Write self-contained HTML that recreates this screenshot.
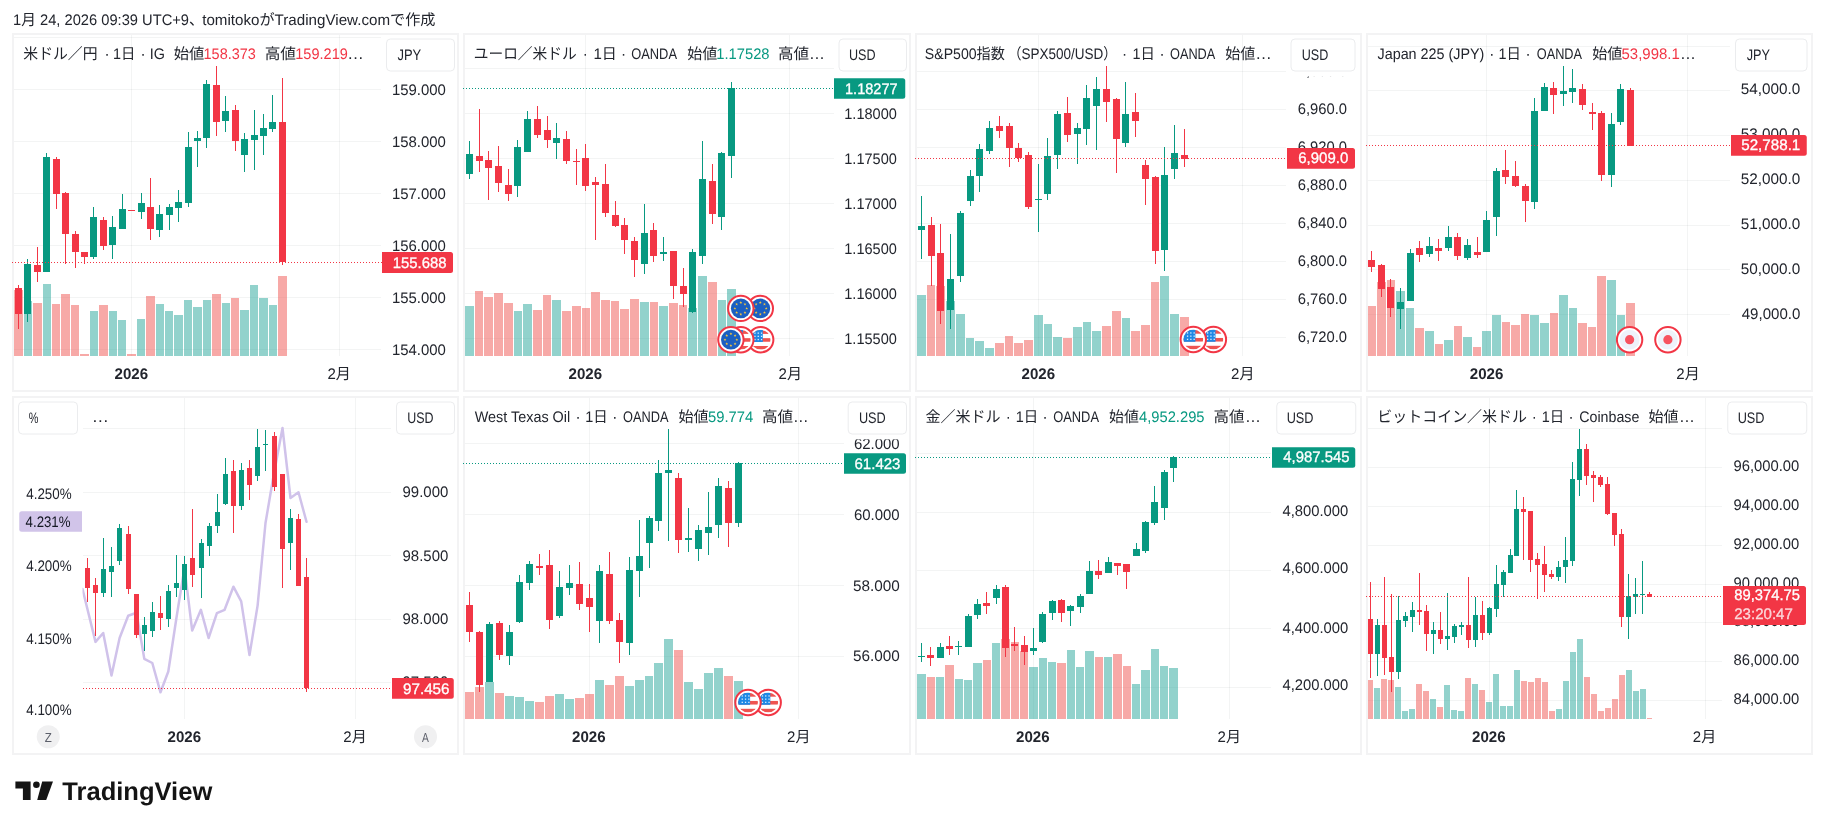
<!DOCTYPE html>
<html lang="ja">
<head>
<meta charset="utf-8">
<title>TradingView chart snapshot</title>
<style>
html,body{margin:0;padding:0;background:#fff;}
body{width:1825px;height:829px;overflow:hidden;font-family:"Liberation Sans","Noto Sans CJK JP",sans-serif;}
svg{display:block;will-change:transform;}
svg text{white-space:pre;text-rendering:geometricPrecision;}
</style>
</head>
<body>
<svg width="1825" height="829" viewBox="0 0 1825 829" font-family='"Liberation Sans", "Noto Sans CJK JP", sans-serif' font-size="15.3">
<rect width="1825" height="829" fill="#fff"/>
<text x="13.04" y="25" textLength="190.7" lengthAdjust="spacingAndGlyphs" fill="#22252d">1月 24, 2026 09:39 UTC+9、</text>
<text x="202.2" y="25" textLength="233.28" lengthAdjust="spacingAndGlyphs" fill="#22252d">tomitokoがTradingView.comで作成</text>
<g class="panel p1">
<rect x="13" y="34" width="445" height="357" fill="#fff" stroke="#f3f3f4" stroke-width="2"/>
<path d="M14 37.5H381.25M14 89.5H381.25M14 141.5H381.25M14 193.5H381.25M14 245.5H381.25M14 297.5H381.25M14 349.5H381.25" stroke="rgba(42,46,57,0.055)" stroke-width="1" fill="none" shape-rendering="crispEdges"/>
<path d="M131.5 35V355.5M339.5 35V355.5" stroke="rgba(42,46,57,0.055)" stroke-width="1" fill="none" shape-rendering="crispEdges"/>
<path d="M24 301h8v54.5h-8zM43 284h8v71.5h-8zM90 311h8v44.5h-8zM109 311h8v44.5h-8zM118 320h8v35.5h-8zM137 319h8v36.5h-8zM156 304h8v51.5h-8zM165 311h8v44.5h-8zM174 315h9v40.5h-9zM184 300h8v55.5h-8zM193 307h9v48.5h-9zM203 300h8v55.5h-8zM222 303h8v52.5h-8zM240 310h9v45.5h-9zM250 285h8v70.5h-8zM259 298h9v57.5h-9zM269 305h8v50.5h-8z" fill="rgba(38,166,154,0.5)" shape-rendering="crispEdges"/>
<path d="M14 290h9v65.5h-9zM33 303h9v52.5h-9zM52 304h8v51.5h-8zM61 294h9v61.5h-9zM71 305h8v50.5h-8zM80 354h9v1.5h-9zM99 305h9v50.5h-9zM127 354h9v1.5h-9zM146 296h9v59.5h-9zM212 294h9v61.5h-9zM231 298h8v57.5h-8zM278 276h9v79.5h-9z" fill="rgba(239,83,80,0.5)" shape-rendering="crispEdges"/>
<path d="M27 259h1v63h-1zM24 264h7v50h-7zM46 153h1v119h-1zM43 157h7v115h-7zM93 207h1v52h-1zM90 217h7v40h-7zM112 216h1v43h-1zM109 227h7v18h-7zM122 194h1v35h-1zM119 209h7v20h-7zM141 193h1v26h-1zM138 203h7v9h-7zM159 205h1v32h-1zM156 214h7v16h-7zM169 204h1v26h-1zM166 207h7v8h-7zM178 190h1v32h-1zM175 202h7v6h-7zM188 132h1v75h-1zM185 147h7v56h-7zM197 131h1v36h-1zM194 138h7v3h-7zM206 80h1v68h-1zM203 84h7v54h-7zM225 96h1v36h-1zM222 111h7v10h-7zM244 133h1v39h-1zM241 139h7v16h-7zM254 110h1v60h-1zM251 135h7v5h-7zM263 114h1v41h-1zM260 128h7v8h-7zM272 95h1v37h-1zM269 122h7v7h-7z" fill="#089981" shape-rendering="crispEdges"/>
<path d="M18 285h1v44h-1zM15 288h7v26h-7zM37 247h1v35h-1zM34 265h7v7h-7zM56 157h1v52h-1zM53 159h7v35h-7zM65 192h1v72h-1zM62 193h7v41h-7zM75 231h1v37h-1zM72 234h7v18h-7zM84 252h1v12h-1zM81 252h7v5h-7zM103 217h1v33h-1zM100 220h7v26h-7zM131 210h1v1h-1zM128 210h7v1h-7zM150 178h1v62h-1zM147 207h7v22h-7zM216 66h1v70h-1zM213 85h7v37h-7zM235 105h1v46h-1zM232 110h7v31h-7zM282 78h1v187h-1zM279 122h7v140h-7z" fill="#f23645" shape-rendering="crispEdges"/>
<path d="M12 262.5H382" stroke="#f23645" stroke-width="1" stroke-dasharray="1 2" fill="none" shape-rendering="crispEdges"/>
<text x="391.92" y="94.55" textLength="53.97" lengthAdjust="spacingAndGlyphs" fill="#22252d">159.000</text>
<text x="391.92" y="146.55" textLength="53.97" lengthAdjust="spacingAndGlyphs" fill="#22252d">158.000</text>
<text x="391.92" y="198.55" textLength="53.97" lengthAdjust="spacingAndGlyphs" fill="#22252d">157.000</text>
<text x="391.92" y="250.55" textLength="53.97" lengthAdjust="spacingAndGlyphs" fill="#22252d">156.000</text>
<text x="391.92" y="302.55" textLength="53.97" lengthAdjust="spacingAndGlyphs" fill="#22252d">155.000</text>
<text x="391.92" y="354.55" textLength="53.97" lengthAdjust="spacingAndGlyphs" fill="#22252d">154.000</text>
<path d="M382 252H450.5Q453 252 453 254.5V270.5Q453 273 450.5 273H382Z" fill="#f23645"/>
<text x="392.78" y="268.1" textLength="53.76" lengthAdjust="spacingAndGlyphs" fill="#fff" stroke="#fff" stroke-width=".3">155.688</text>
<rect x="383" y="36.5" width="74" height="39.9" fill="#fff"/>
<rect x="386.5" y="39" width="68" height="32" rx="4" fill="#fff" stroke="#ebecee" stroke-width="1"/>
<text x="397.5" y="59.6" textLength="23.75" lengthAdjust="spacingAndGlyphs" fill="#22252d">JPY</text>
<text x="23.3" y="58.8" textLength="74.18" lengthAdjust="spacingAndGlyphs" fill="#22252d">米ドル／円</text>
<text x="104.5" y="58.8" fill="#22252d">·</text>
<text x="112.96" y="58.8" textLength="22.34" lengthAdjust="spacingAndGlyphs" fill="#22252d">1日</text>
<text x="140.5" y="58.8" fill="#22252d">·</text>
<text x="149.66" y="58.8" textLength="15.18" lengthAdjust="spacingAndGlyphs" fill="#22252d">IG</text>
<text x="173.75" y="58.8" textLength="30.61" lengthAdjust="spacingAndGlyphs" fill="#22252d">始値</text>
<text x="203.55" y="58.8" textLength="52.33" lengthAdjust="spacingAndGlyphs" fill="#f23645">158.373</text>
<text x="264.67" y="58.8" textLength="31.45" lengthAdjust="spacingAndGlyphs" fill="#22252d">高値</text>
<text x="295.3" y="58.8" textLength="52.48" lengthAdjust="spacingAndGlyphs" fill="#f23645">159.219</text>
<text x="347.33" y="58.8" textLength="16.57" lengthAdjust="spacingAndGlyphs" fill="#22252d">…</text>
<text x="114.5" y="378.5" textLength="33.53" lengthAdjust="spacingAndGlyphs" font-weight="bold" fill="#22252d">2026</text>
<text x="327.5" y="378.5" textLength="23.36" lengthAdjust="spacingAndGlyphs" fill="#22252d">2月</text>
</g>
<g class="panel p2">
<rect x="464" y="34" width="446" height="357" fill="#fff" stroke="#f3f3f4" stroke-width="2"/>
<path d="M465 68.5H833.5M465 113.5H833.5M465 158.5H833.5M465 203.5H833.5M465 248.5H833.5M465 293.5H833.5M465 338.5H833.5" stroke="rgba(42,46,57,0.055)" stroke-width="1" fill="none" shape-rendering="crispEdges"/>
<path d="M585.5 35V355.5M789.5 35V355.5" stroke="rgba(42,46,57,0.055)" stroke-width="1" fill="none" shape-rendering="crispEdges"/>
<path d="M465 306h9v49.5h-9zM514 311h8v44.5h-8zM523 304h9v51.5h-9zM552 300h9v55.5h-9zM640 302h9v53.5h-9zM659 306h9v49.5h-9zM688 308h9v47.5h-9zM698 276h9v79.5h-9zM718 300h8v55.5h-8zM727 289h9v66.5h-9z" fill="rgba(38,166,154,0.5)" shape-rendering="crispEdges"/>
<path d="M475 291h8v64.5h-8zM484 297h9v58.5h-9zM494 293h9v62.5h-9zM504 303h9v52.5h-9zM533 310h9v45.5h-9zM543 295h8v60.5h-8zM562 311h9v44.5h-9zM572 306h9v49.5h-9zM582 308h8v47.5h-8zM591 292h9v63.5h-9zM601 300h9v55.5h-9zM611 301h8v54.5h-8zM620 309h9v46.5h-9zM630 299h9v56.5h-9zM650 302h8v53.5h-8zM669 303h9v52.5h-9zM679 305h8v50.5h-8zM708 282h9v73.5h-9z" fill="rgba(239,83,80,0.5)" shape-rendering="crispEdges"/>
<path d="M469 141h1v38h-1zM466 154h7v20h-7zM517 140h1v57h-1zM514 147h7v39h-7zM527 111h1v41h-1zM524 119h7v33h-7zM556 123h1v36h-1zM553 138h7v5h-7zM644 204h1v70h-1zM641 233h7v31h-7zM663 237h1v24h-1zM660 252h7v2h-7zM692 249h1v64h-1zM689 252h7v60h-7zM702 141h1v123h-1zM699 179h7v77h-7zM721 152h1v78h-1zM718 153h7v64h-7zM731 82h1v96h-1zM728 88h7v68h-7z" fill="#089981" shape-rendering="crispEdges"/>
<path d="M479 109h1v63h-1zM476 156h7v5h-7zM488 151h1v49h-1zM485 160h7v8h-7zM498 146h1v46h-1zM495 166h7v17h-7zM508 169h1v32h-1zM505 185h7v9h-7zM537 106h1v32h-1zM534 119h7v16h-7zM547 116h1v32h-1zM544 130h7v10h-7zM566 131h1v33h-1zM563 139h7v22h-7zM576 149h1v36h-1zM573 161h7v1h-7zM585 144h1v47h-1zM582 158h7v28h-7zM595 177h1v63h-1zM592 182h7v3h-7zM605 164h1v53h-1zM602 184h7v29h-7zM615 201h1v26h-1zM612 215h7v11h-7zM624 218h1v36h-1zM621 225h7v15h-7zM634 237h1v40h-1zM631 241h7v19h-7zM653 223h1v39h-1zM650 230h7v26h-7zM673 251h1v48h-1zM670 251h7v35h-7zM683 268h1v39h-1zM680 286h7v8h-7zM712 164h1v60h-1zM709 181h7v33h-7z" fill="#f23645" shape-rendering="crispEdges"/>
<g><circle cx="760.3" cy="308.4" r="12.7" fill="#fff" stroke="#f23645" stroke-width="2"/><circle cx="760.3" cy="308.4" r="9.9" fill="#1b5fc1"/><polygon points="760.3,301 760.67,301.99 761.73,302.04 760.9,302.69 761.18,303.71 760.3,303.13 759.42,303.71 759.7,302.69 758.87,302.04 759.93,301.99" fill="#f5c73d"/><polygon points="764.47,302.73 764.84,303.72 765.9,303.76 765.07,304.42 765.35,305.44 764.47,304.86 763.59,305.44 763.87,304.42 763.05,303.76 764.1,303.72" fill="#f5c73d"/><polygon points="766.2,306.9 766.57,307.89 767.63,307.94 766.8,308.59 767.08,309.61 766.2,309.03 765.32,309.61 765.6,308.59 764.77,307.94 765.83,307.89" fill="#f5c73d"/><polygon points="764.47,311.07 764.84,312.06 765.9,312.11 765.07,312.77 765.35,313.79 764.47,313.2 763.59,313.79 763.87,312.77 763.05,312.11 764.1,312.06" fill="#f5c73d"/><polygon points="760.3,312.8 760.67,313.79 761.73,313.84 760.9,314.49 761.18,315.51 760.3,314.93 759.42,315.51 759.7,314.49 758.87,313.84 759.93,313.79" fill="#f5c73d"/><polygon points="756.13,311.07 756.5,312.06 757.55,312.11 756.73,312.77 757.01,313.79 756.13,313.2 755.25,313.79 755.53,312.77 754.7,312.11 755.76,312.06" fill="#f5c73d"/><polygon points="754.4,306.9 754.77,307.89 755.83,307.94 755,308.59 755.28,309.61 754.4,309.03 753.52,309.61 753.8,308.59 752.97,307.94 754.03,307.89" fill="#f5c73d"/><polygon points="756.13,302.73 756.5,303.72 757.55,303.76 756.73,304.42 757.01,305.44 756.13,304.86 755.25,305.44 755.53,304.42 754.7,303.76 755.76,303.72" fill="#f5c73d"/></g>
<g><circle cx="740.8" cy="308.4" r="12.7" fill="#fff" stroke="#f23645" stroke-width="2"/><circle cx="740.8" cy="308.4" r="9.9" fill="#1b5fc1"/><polygon points="740.8,301 741.17,301.99 742.23,302.04 741.4,302.69 741.68,303.71 740.8,303.13 739.92,303.71 740.2,302.69 739.37,302.04 740.43,301.99" fill="#f5c73d"/><polygon points="744.97,302.73 745.34,303.72 746.4,303.76 745.57,304.42 745.85,305.44 744.97,304.86 744.09,305.44 744.37,304.42 743.55,303.76 744.6,303.72" fill="#f5c73d"/><polygon points="746.7,306.9 747.07,307.89 748.13,307.94 747.3,308.59 747.58,309.61 746.7,309.03 745.82,309.61 746.1,308.59 745.27,307.94 746.33,307.89" fill="#f5c73d"/><polygon points="744.97,311.07 745.34,312.06 746.4,312.11 745.57,312.77 745.85,313.79 744.97,313.2 744.09,313.79 744.37,312.77 743.55,312.11 744.6,312.06" fill="#f5c73d"/><polygon points="740.8,312.8 741.17,313.79 742.23,313.84 741.4,314.49 741.68,315.51 740.8,314.93 739.92,315.51 740.2,314.49 739.37,313.84 740.43,313.79" fill="#f5c73d"/><polygon points="736.63,311.07 737,312.06 738.05,312.11 737.23,312.77 737.51,313.79 736.63,313.2 735.75,313.79 736.03,312.77 735.2,312.11 736.26,312.06" fill="#f5c73d"/><polygon points="734.9,306.9 735.27,307.89 736.33,307.94 735.5,308.59 735.78,309.61 734.9,309.03 734.02,309.61 734.3,308.59 733.47,307.94 734.53,307.89" fill="#f5c73d"/><polygon points="736.63,302.73 737,303.72 738.05,303.76 737.23,304.42 737.51,305.44 736.63,304.86 735.75,305.44 736.03,304.42 735.2,303.76 736.26,303.72" fill="#f5c73d"/></g>
<g><circle cx="760.7" cy="339.7" r="12.7" fill="#fff" stroke="#f23645" stroke-width="2"/><clipPath id="cl1"><circle cx="760.7" cy="339.7" r="9.9"/></clipPath><g clip-path="url(#cl1)"><rect x="750.7" y="329.7" width="20" height="20" fill="#fff"/><rect x="750.7" y="330.3" width="20" height="3.6" fill="#ef5350"/><rect x="750.7" y="338.15" width="20" height="3.6" fill="#ef5350"/><rect x="750.7" y="346" width="20" height="3.6" fill="#ef5350"/><rect x="750.7" y="329.7" width="12.1" height="12.3" fill="#1e88e5"/><rect x="754.3" y="332.5" width="1.3" height="1.3" fill="#fff" fill-opacity=".85"/><rect x="754.3" y="335.7" width="1.3" height="1.3" fill="#fff" fill-opacity=".85"/><rect x="754.3" y="338.9" width="1.3" height="1.3" fill="#fff" fill-opacity=".85"/><rect x="757.6" y="332.5" width="1.3" height="1.3" fill="#fff" fill-opacity=".85"/><rect x="757.6" y="335.7" width="1.3" height="1.3" fill="#fff" fill-opacity=".85"/><rect x="757.6" y="338.9" width="1.3" height="1.3" fill="#fff" fill-opacity=".85"/><rect x="760.9" y="332.5" width="1.3" height="1.3" fill="#fff" fill-opacity=".85"/><rect x="760.9" y="335.7" width="1.3" height="1.3" fill="#fff" fill-opacity=".85"/><rect x="760.9" y="338.9" width="1.3" height="1.3" fill="#fff" fill-opacity=".85"/></g></g>
<g><circle cx="740.8" cy="339.7" r="12.7" fill="#fff" stroke="#f23645" stroke-width="2"/><clipPath id="cl2"><circle cx="740.8" cy="339.7" r="9.9"/></clipPath><g clip-path="url(#cl2)"><rect x="730.8" y="329.7" width="20" height="20" fill="#fff"/><rect x="730.8" y="330.3" width="20" height="3.6" fill="#ef5350"/><rect x="730.8" y="338.15" width="20" height="3.6" fill="#ef5350"/><rect x="730.8" y="346" width="20" height="3.6" fill="#ef5350"/><rect x="730.8" y="329.7" width="12.1" height="12.3" fill="#1e88e5"/><rect x="734.4" y="332.5" width="1.3" height="1.3" fill="#fff" fill-opacity=".85"/><rect x="734.4" y="335.7" width="1.3" height="1.3" fill="#fff" fill-opacity=".85"/><rect x="734.4" y="338.9" width="1.3" height="1.3" fill="#fff" fill-opacity=".85"/><rect x="737.7" y="332.5" width="1.3" height="1.3" fill="#fff" fill-opacity=".85"/><rect x="737.7" y="335.7" width="1.3" height="1.3" fill="#fff" fill-opacity=".85"/><rect x="737.7" y="338.9" width="1.3" height="1.3" fill="#fff" fill-opacity=".85"/><rect x="741" y="332.5" width="1.3" height="1.3" fill="#fff" fill-opacity=".85"/><rect x="741" y="335.7" width="1.3" height="1.3" fill="#fff" fill-opacity=".85"/><rect x="741" y="338.9" width="1.3" height="1.3" fill="#fff" fill-opacity=".85"/></g></g>
<g><circle cx="730.9" cy="339.7" r="12.7" fill="#fff" stroke="#f23645" stroke-width="2"/><circle cx="730.9" cy="339.7" r="9.9" fill="#1b5fc1"/><polygon points="730.9,332.3 731.27,333.29 732.33,333.34 731.5,333.99 731.78,335.01 730.9,334.43 730.02,335.01 730.3,333.99 729.47,333.34 730.53,333.29" fill="#f5c73d"/><polygon points="735.07,334.03 735.44,335.02 736.5,335.06 735.67,335.72 735.95,336.74 735.07,336.16 734.19,336.74 734.47,335.72 733.65,335.06 734.7,335.02" fill="#f5c73d"/><polygon points="736.8,338.2 737.17,339.19 738.23,339.24 737.4,339.89 737.68,340.91 736.8,340.33 735.92,340.91 736.2,339.89 735.37,339.24 736.43,339.19" fill="#f5c73d"/><polygon points="735.07,342.37 735.44,343.36 736.5,343.41 735.67,344.07 735.95,345.09 735.07,344.5 734.19,345.09 734.47,344.07 733.65,343.41 734.7,343.36" fill="#f5c73d"/><polygon points="730.9,344.1 731.27,345.09 732.33,345.14 731.5,345.79 731.78,346.81 730.9,346.23 730.02,346.81 730.3,345.79 729.47,345.14 730.53,345.09" fill="#f5c73d"/><polygon points="726.73,342.37 727.1,343.36 728.15,343.41 727.33,344.07 727.61,345.09 726.73,344.5 725.85,345.09 726.13,344.07 725.3,343.41 726.36,343.36" fill="#f5c73d"/><polygon points="725,338.2 725.37,339.19 726.43,339.24 725.6,339.89 725.88,340.91 725,340.33 724.12,340.91 724.4,339.89 723.57,339.24 724.63,339.19" fill="#f5c73d"/><polygon points="726.73,334.03 727.1,335.02 728.15,335.06 727.33,335.72 727.61,336.74 726.73,336.16 725.85,336.74 726.13,335.72 725.3,335.06 726.36,335.02" fill="#f5c73d"/></g>
<path d="M463 88.5H834" stroke="#089981" stroke-width="1" stroke-dasharray="1 2" fill="none" shape-rendering="crispEdges"/>
<text x="844.3" y="118.55" textLength="52.48" lengthAdjust="spacingAndGlyphs" fill="#22252d">1.18000</text>
<text x="844.3" y="163.55" textLength="52.48" lengthAdjust="spacingAndGlyphs" fill="#22252d">1.17500</text>
<text x="844.3" y="208.55" textLength="52.48" lengthAdjust="spacingAndGlyphs" fill="#22252d">1.17000</text>
<text x="844.3" y="253.55" textLength="52.48" lengthAdjust="spacingAndGlyphs" fill="#22252d">1.16500</text>
<text x="844.3" y="298.55" textLength="52.48" lengthAdjust="spacingAndGlyphs" fill="#22252d">1.16000</text>
<text x="844.3" y="343.55" textLength="52.48" lengthAdjust="spacingAndGlyphs" fill="#22252d">1.15500</text>
<path d="M834 78.25H902.75Q905.25 78.25 905.25 80.75V96.25Q905.25 98.75 902.75 98.75H834Z" fill="#089981"/>
<text x="845.05" y="94.2" textLength="52.48" lengthAdjust="spacingAndGlyphs" fill="#fff" stroke="#fff" stroke-width=".3">1.18277</text>
<rect x="835.5" y="36.5" width="73.5" height="39.9" fill="#fff"/>
<rect x="839" y="39" width="67.5" height="32" rx="4" fill="#fff" stroke="#ebecee" stroke-width="1"/>
<text x="848.93" y="59.6" textLength="26.57" lengthAdjust="spacingAndGlyphs" fill="#22252d">USD</text>
<text x="473.74" y="58.8" textLength="102.91" lengthAdjust="spacingAndGlyphs" fill="#22252d">ユーロ／米ドル</text>
<text x="582.8" y="58.8" fill="#22252d">·</text>
<text x="593.42" y="58.8" textLength="23.36" lengthAdjust="spacingAndGlyphs" fill="#22252d">1日</text>
<text x="620.9" y="58.8" fill="#22252d">·</text>
<text x="631.2" y="58.8" textLength="45.8" lengthAdjust="spacingAndGlyphs" fill="#22252d">OANDA</text>
<text x="687.25" y="58.8" textLength="30.1" lengthAdjust="spacingAndGlyphs" fill="#22252d">始値</text>
<text x="716.29" y="58.8" textLength="53.25" lengthAdjust="spacingAndGlyphs" fill="#089981">1.17528</text>
<text x="777.98" y="58.8" textLength="31.14" lengthAdjust="spacingAndGlyphs" fill="#22252d">高値</text>
<text x="808.92" y="58.8" textLength="15.93" lengthAdjust="spacingAndGlyphs" fill="#22252d">…</text>
<text x="568.6" y="378.5" textLength="33.53" lengthAdjust="spacingAndGlyphs" font-weight="bold" fill="#22252d">2026</text>
<text x="778.6" y="378.5" textLength="23.36" lengthAdjust="spacingAndGlyphs" fill="#22252d">2月</text>
</g>
<g class="panel p3">
<rect x="916" y="34" width="445" height="357" fill="#fff" stroke="#f3f3f4" stroke-width="2"/>
<path d="M917 71.5H1286.25M917 109.5H1286.25M917 147.5H1286.25M917 185.5H1286.25M917 223.5H1286.25M917 261.5H1286.25M917 299.5H1286.25M917 337.5H1286.25" stroke="rgba(42,46,57,0.055)" stroke-width="1" fill="none" shape-rendering="crispEdges"/>
<path d="M1038.5 35V355.5M1242.5 35V355.5" stroke="rgba(42,46,57,0.055)" stroke-width="1" fill="none" shape-rendering="crispEdges"/>
<path d="M917 295h9v60.5h-9zM946 301h9v54.5h-9zM956 314h9v41.5h-9zM966 338h8v17.5h-8zM975 341h9v14.5h-9zM985 348h9v7.5h-9zM1034 315h9v40.5h-9zM1044 324h8v31.5h-8zM1053 337h9v18.5h-9zM1073 327h9v28.5h-9zM1083 322h8v33.5h-8zM1092 331h9v24.5h-9zM1122 318h8v37.5h-8zM1160 276h9v79.5h-9zM1170 314h9v41.5h-9z" fill="rgba(38,166,154,0.5)" shape-rendering="crispEdges"/>
<path d="M927 285h8v70.5h-8zM936 286h9v69.5h-9zM995 343h9v12.5h-9zM1005 336h8v19.5h-8zM1014 343h9v12.5h-9zM1024 340h9v15.5h-9zM1063 338h9v17.5h-9zM1102 326h9v29.5h-9zM1112 311h9v44.5h-9zM1131 331h9v24.5h-9zM1141 325h9v30.5h-9zM1151 282h8v73.5h-8zM1180 317h9v38.5h-9z" fill="rgba(239,83,80,0.5)" shape-rendering="crispEdges"/>
<path d="M921 196h1v63h-1zM918 226h7v4h-7zM950 234h1v95h-1zM947 279h7v31h-7zM960 211h1v71h-1zM957 213h7v63h-7zM970 170h1v36h-1zM967 176h7v25h-7zM979 144h1v48h-1zM976 149h7v27h-7zM989 121h1v33h-1zM986 128h7v23h-7zM1038 164h1v68h-1zM1035 199h7v1h-7zM1047 138h1v62h-1zM1044 156h7v38h-7zM1057 111h1v58h-1zM1054 114h7v41h-7zM1077 123h1v41h-1zM1074 128h7v6h-7zM1086 85h1v60h-1zM1083 98h7v31h-7zM1096 77h1v73h-1zM1093 89h7v17h-7zM1125 82h1v65h-1zM1122 114h7v29h-7zM1164 147h1v124h-1zM1161 175h7v75h-7zM1174 125h1v54h-1zM1171 153h7v16h-7z" fill="#089981" shape-rendering="crispEdges"/>
<path d="M931 217h1v69h-1zM928 225h7v31h-7zM940 224h1v100h-1zM937 253h7v58h-7zM999 116h1v22h-1zM996 126h7v5h-7zM1009 123h1v44h-1zM1006 126h7v22h-7zM1018 143h1v19h-1zM1015 148h7v10h-7zM1028 152h1v57h-1zM1025 155h7v52h-7zM1067 97h1v45h-1zM1064 113h7v22h-7zM1106 66h1v56h-1zM1103 89h7v13h-7zM1116 98h1v75h-1zM1113 99h7v40h-7zM1135 93h1v44h-1zM1132 112h7v9h-7zM1145 160h1v45h-1zM1142 165h7v14h-7zM1155 176h1v88h-1zM1152 177h7v74h-7zM1184 129h1v38h-1zM1181 155h7v4h-7z" fill="#f23645" shape-rendering="crispEdges"/>
<g><circle cx="1213.4" cy="339.5" r="12.7" fill="#fff" stroke="#f23645" stroke-width="2"/><clipPath id="cl3"><circle cx="1213.4" cy="339.5" r="9.9"/></clipPath><g clip-path="url(#cl3)"><rect x="1203.4" y="329.5" width="20" height="20" fill="#fff"/><rect x="1203.4" y="330.1" width="20" height="3.6" fill="#ef5350"/><rect x="1203.4" y="337.95" width="20" height="3.6" fill="#ef5350"/><rect x="1203.4" y="345.8" width="20" height="3.6" fill="#ef5350"/><rect x="1203.4" y="329.5" width="12.1" height="12.3" fill="#1e88e5"/><rect x="1207" y="332.3" width="1.3" height="1.3" fill="#fff" fill-opacity=".85"/><rect x="1207" y="335.5" width="1.3" height="1.3" fill="#fff" fill-opacity=".85"/><rect x="1207" y="338.7" width="1.3" height="1.3" fill="#fff" fill-opacity=".85"/><rect x="1210.3" y="332.3" width="1.3" height="1.3" fill="#fff" fill-opacity=".85"/><rect x="1210.3" y="335.5" width="1.3" height="1.3" fill="#fff" fill-opacity=".85"/><rect x="1210.3" y="338.7" width="1.3" height="1.3" fill="#fff" fill-opacity=".85"/><rect x="1213.6" y="332.3" width="1.3" height="1.3" fill="#fff" fill-opacity=".85"/><rect x="1213.6" y="335.5" width="1.3" height="1.3" fill="#fff" fill-opacity=".85"/><rect x="1213.6" y="338.7" width="1.3" height="1.3" fill="#fff" fill-opacity=".85"/></g></g>
<g><circle cx="1193.3" cy="339.5" r="12.7" fill="#fff" stroke="#f23645" stroke-width="2"/><clipPath id="cl4"><circle cx="1193.3" cy="339.5" r="9.9"/></clipPath><g clip-path="url(#cl4)"><rect x="1183.3" y="329.5" width="20" height="20" fill="#fff"/><rect x="1183.3" y="330.1" width="20" height="3.6" fill="#ef5350"/><rect x="1183.3" y="337.95" width="20" height="3.6" fill="#ef5350"/><rect x="1183.3" y="345.8" width="20" height="3.6" fill="#ef5350"/><rect x="1183.3" y="329.5" width="12.1" height="12.3" fill="#1e88e5"/><rect x="1186.9" y="332.3" width="1.3" height="1.3" fill="#fff" fill-opacity=".85"/><rect x="1186.9" y="335.5" width="1.3" height="1.3" fill="#fff" fill-opacity=".85"/><rect x="1186.9" y="338.7" width="1.3" height="1.3" fill="#fff" fill-opacity=".85"/><rect x="1190.2" y="332.3" width="1.3" height="1.3" fill="#fff" fill-opacity=".85"/><rect x="1190.2" y="335.5" width="1.3" height="1.3" fill="#fff" fill-opacity=".85"/><rect x="1190.2" y="338.7" width="1.3" height="1.3" fill="#fff" fill-opacity=".85"/><rect x="1193.5" y="332.3" width="1.3" height="1.3" fill="#fff" fill-opacity=".85"/><rect x="1193.5" y="335.5" width="1.3" height="1.3" fill="#fff" fill-opacity=".85"/><rect x="1193.5" y="338.7" width="1.3" height="1.3" fill="#fff" fill-opacity=".85"/></g></g>
<path d="M915 158.5H1287" stroke="#f23645" stroke-width="1" stroke-dasharray="1 2" fill="none" shape-rendering="crispEdges"/>
<text x="1297.75" y="75.6" textLength="49.3" lengthAdjust="spacingAndGlyphs" fill="#22252d">7,000.0</text>
<text x="1297.75" y="113.6" textLength="49.3" lengthAdjust="spacingAndGlyphs" fill="#22252d">6,960.0</text>
<text x="1297.75" y="151.85" textLength="49.3" lengthAdjust="spacingAndGlyphs" fill="#22252d">6,920.0</text>
<text x="1297.75" y="189.85" textLength="49.3" lengthAdjust="spacingAndGlyphs" fill="#22252d">6,880.0</text>
<text x="1297.75" y="227.6" textLength="49.3" lengthAdjust="spacingAndGlyphs" fill="#22252d">6,840.0</text>
<text x="1297.75" y="265.6" textLength="49.3" lengthAdjust="spacingAndGlyphs" fill="#22252d">6,800.0</text>
<text x="1297.75" y="303.6" textLength="49.3" lengthAdjust="spacingAndGlyphs" fill="#22252d">6,760.0</text>
<text x="1297.75" y="341.6" textLength="49.3" lengthAdjust="spacingAndGlyphs" fill="#22252d">6,720.0</text>
<path d="M1287 148H1352.5Q1355 148 1355 150.5V166.25Q1355 168.75 1352.5 168.75H1287Z" fill="#f23645"/>
<text x="1298.25" y="163" textLength="50.05" lengthAdjust="spacingAndGlyphs" fill="#fff" stroke="#fff" stroke-width=".3">6,909.0</text>
<rect x="1287.5" y="36.5" width="70" height="39.9" fill="#fff"/>
<rect x="1291" y="39" width="64" height="32" rx="4" fill="#fff" stroke="#ebecee" stroke-width="1"/>
<text x="1301.78" y="59.6" textLength="26.57" lengthAdjust="spacingAndGlyphs" fill="#22252d">USD</text>
<text x="924.83" y="58.8" textLength="79.93" lengthAdjust="spacingAndGlyphs" fill="#22252d">S&amp;P500指数</text>
<text x="1007.97" y="58.8" textLength="108.92" lengthAdjust="spacingAndGlyphs" fill="#22252d">（SPX500/USD）</text>
<text x="1122" y="58.8" fill="#22252d">·</text>
<text x="1132.46" y="58.8" textLength="22.34" lengthAdjust="spacingAndGlyphs" fill="#22252d">1日</text>
<text x="1159.5" y="58.8" fill="#22252d">·</text>
<text x="1170" y="58.8" textLength="45.26" lengthAdjust="spacingAndGlyphs" fill="#22252d">OANDA</text>
<text x="1225.25" y="58.8" textLength="30.1" lengthAdjust="spacingAndGlyphs" fill="#22252d">始値</text>
<text x="1255.33" y="58.8" textLength="16.57" lengthAdjust="spacingAndGlyphs" fill="#22252d">…</text>
<text x="1021.6" y="378.5" textLength="33.53" lengthAdjust="spacingAndGlyphs" font-weight="bold" fill="#22252d">2026</text>
<text x="1231.1" y="378.5" textLength="23.36" lengthAdjust="spacingAndGlyphs" fill="#22252d">2月</text>
</g>
<g class="panel p4">
<rect x="1367" y="34" width="445" height="357" fill="#fff" stroke="#f3f3f4" stroke-width="2"/>
<path d="M1368 46.5H1730M1368 90.5H1730M1368 135.5H1730M1368 180.5H1730M1368 225.5H1730M1368 269.5H1730M1368 314.5H1730" stroke="rgba(42,46,57,0.055)" stroke-width="1" fill="none" shape-rendering="crispEdges"/>
<path d="M1486.5 35V355.5M1687.5 35V355.5" stroke="rgba(42,46,57,0.055)" stroke-width="1" fill="none" shape-rendering="crispEdges"/>
<path d="M1396 291h9v64.5h-9zM1406 308h8v47.5h-8zM1425 331h9v24.5h-9zM1444 340h9v15.5h-9zM1463 337h9v18.5h-9zM1482 331h9v24.5h-9zM1492 315h9v40.5h-9zM1530 315h9v40.5h-9zM1540 323h9v32.5h-9zM1559 295h9v60.5h-9zM1569 308h8v47.5h-8zM1607 280h9v75.5h-9zM1617 315h8v40.5h-8z" fill="rgba(38,166,154,0.5)" shape-rendering="crispEdges"/>
<path d="M1368 306h8v49.5h-8zM1377 282h9v73.5h-9zM1387 280h8v75.5h-8zM1415 328h9v27.5h-9zM1435 344h8v11.5h-8zM1454 326h8v29.5h-8zM1473 347h8v8.5h-8zM1502 322h8v33.5h-8zM1511 325h9v30.5h-9zM1521 314h8v41.5h-8zM1550 313h8v42.5h-8zM1578 323h9v32.5h-9zM1588 327h8v28.5h-8zM1597 276h9v79.5h-9zM1626 303h9v52.5h-9z" fill="rgba(239,83,80,0.5)" shape-rendering="crispEdges"/>
<path d="M1400 288h1v41h-1zM1397 302h7v7h-7zM1410 249h1v52h-1zM1407 253h7v48h-7zM1429 237h1v20h-1zM1426 246h7v8h-7zM1448 226h1v25h-1zM1445 237h7v11h-7zM1467 239h1v21h-1zM1464 245h7v13h-7zM1486 211h1v41h-1zM1483 220h7v32h-7zM1496 168h1v68h-1zM1493 171h7v46h-7zM1534 98h1v111h-1zM1531 111h7v91h-7zM1544 83h1v28h-1zM1541 87h7v24h-7zM1563 66h1v40h-1zM1560 91h7v3h-7zM1572 69h1v34h-1zM1569 88h7v4h-7zM1611 113h1v74h-1zM1608 124h7v51h-7zM1620 84h1v41h-1zM1617 89h7v33h-7z" fill="#089981" shape-rendering="crispEdges"/>
<path d="M1371 251h1v21h-1zM1368 260h7v7h-7zM1381 264h1v33h-1zM1378 265h7v24h-7zM1390 279h1v38h-1zM1387 287h7v21h-7zM1419 241h1v21h-1zM1416 248h7v7h-7zM1438 239h1v22h-1zM1435 248h7v3h-7zM1457 233h1v27h-1zM1454 237h7v19h-7zM1477 237h1v21h-1zM1474 252h7v3h-7zM1505 150h1v34h-1zM1502 170h7v7h-7zM1515 161h1v26h-1zM1512 176h7v10h-7zM1525 184h1v38h-1zM1522 186h7v15h-7zM1553 82h1v32h-1zM1550 88h7v7h-7zM1582 84h1v26h-1zM1579 89h7v16h-7zM1592 103h1v27h-1zM1589 112h7v2h-7zM1601 111h1v70h-1zM1598 113h7v62h-7zM1630 88h1v58h-1zM1627 90h7v56h-7z" fill="#f23645" shape-rendering="crispEdges"/>
<g><circle cx="1629.6" cy="339.7" r="12.7" fill="#fff" stroke="#f23645" stroke-width="2"/><circle cx="1629.6" cy="339.7" r="9.9" fill="#eef2fa"/><circle cx="1629.6" cy="339.7" r="4.6" fill="#f7525f"/></g>
<g><circle cx="1667.9" cy="339.7" r="12.7" fill="#fff" stroke="#f23645" stroke-width="2"/><circle cx="1667.9" cy="339.7" r="9.9" fill="#eef2fa"/><circle cx="1667.9" cy="339.7" r="4.6" fill="#f7525f"/></g>
<path d="M1366 145.5H1731" stroke="#f23645" stroke-width="1" stroke-dasharray="1 2" fill="none" shape-rendering="crispEdges"/>
<text x="1740.75" y="94.35" textLength="59.55" lengthAdjust="spacingAndGlyphs" fill="#22252d">54,000.0</text>
<text x="1740.75" y="139.35" textLength="59.55" lengthAdjust="spacingAndGlyphs" fill="#22252d">53,000.0</text>
<text x="1740.75" y="184.35" textLength="59.55" lengthAdjust="spacingAndGlyphs" fill="#22252d">52,000.0</text>
<text x="1740.75" y="229.35" textLength="59.55" lengthAdjust="spacingAndGlyphs" fill="#22252d">51,000.0</text>
<text x="1740.75" y="273.6" textLength="59.55" lengthAdjust="spacingAndGlyphs" fill="#22252d">50,000.0</text>
<text x="1741.75" y="318.6" textLength="58.54" lengthAdjust="spacingAndGlyphs" fill="#22252d">49,000.0</text>
<path d="M1731 135H1804.25Q1806.75 135 1806.75 137.5V153.25Q1806.75 155.75 1804.25 155.75H1731Z" fill="#f23645"/>
<text x="1741.26" y="149.8" textLength="59.03" lengthAdjust="spacingAndGlyphs" fill="#fff" stroke="#fff" stroke-width=".3">52,788.1</text>
<rect x="1732" y="36.5" width="77.5" height="39.9" fill="#fff"/>
<rect x="1735.5" y="39" width="71.5" height="32" rx="4" fill="#fff" stroke="#ebecee" stroke-width="1"/>
<text x="1746.75" y="59.6" textLength="23.3" lengthAdjust="spacingAndGlyphs" fill="#22252d">JPY</text>
<text x="1377.5" y="58.8" textLength="106.89" lengthAdjust="spacingAndGlyphs" fill="#22252d">Japan 225 (JPY)</text>
<text x="1489.25" y="58.8" fill="#22252d">·</text>
<text x="1498.46" y="58.8" textLength="22.34" lengthAdjust="spacingAndGlyphs" fill="#22252d">1日</text>
<text x="1525.5" y="58.8" fill="#22252d">·</text>
<text x="1536.75" y="58.8" textLength="45.26" lengthAdjust="spacingAndGlyphs" fill="#22252d">OANDA</text>
<text x="1592.25" y="58.8" textLength="30.1" lengthAdjust="spacingAndGlyphs" fill="#22252d">始値</text>
<text x="1621.52" y="58.8" textLength="58.26" lengthAdjust="spacingAndGlyphs" fill="#f23645">53,998.1</text>
<text x="1679.92" y="58.8" textLength="15.93" lengthAdjust="spacingAndGlyphs" fill="#22252d">…</text>
<text x="1469.85" y="378.5" textLength="33.53" lengthAdjust="spacingAndGlyphs" font-weight="bold" fill="#22252d">2026</text>
<text x="1676.35" y="378.5" textLength="23.36" lengthAdjust="spacingAndGlyphs" fill="#22252d">2月</text>
</g>
<g class="panel p5">
<rect x="13" y="397" width="445" height="357" fill="#fff" stroke="#f3f3f4" stroke-width="2"/>
<path d="M82.5 428.5H391.25M82.5 492.5H391.25M82.5 555.5H391.25M82.5 619.5H391.25M82.5 682.5H391.25" stroke="rgba(42,46,57,0.055)" stroke-width="1" fill="none" shape-rendering="crispEdges"/>
<path d="M184.5 398V718.5M355.5 398V718.5" stroke="rgba(42,46,57,0.055)" stroke-width="1" fill="none" shape-rendering="crispEdges"/>
<clipPath id="pc5"><rect x="82.5" y="398" width="308.75" height="320.5"/></clipPath>
<polyline clip-path="url(#pc5)" points="82.5,589 95.5,641.9 103.2,633 111.5,675.4 119.6,638 128.2,615.7 136.5,612.7 144.3,658.8 152.3,663 160.5,692.3 168.3,671.5 176.5,617.5 184.5,567.6 192.2,630.6 200.9,609.8 208.6,638 216.9,613.2 224.6,609.8 233.4,586.7 241.2,601.4 249.5,655.1 257.6,605.6 265.5,523 273.5,476 282.5,428 290.5,498 298.5,492.25 306.5,521.75" fill="none" stroke="#d0c2ea" stroke-width="2.5" stroke-linejoin="round" stroke-linecap="round"/>
<path d="M103 538h1v59h-1zM101 569h5v24h-5zM111 547h1v50h-1zM109 566h5v6h-5zM119 524h1v41h-1zM117 528h5v33h-5zM144 617h1v34h-1zM142 625h5v9h-5zM152 602h1v35h-1zM150 612h5v19h-5zM168 585h1v42h-1zM166 591h5v28h-5zM176 555h1v42h-1zM174 583h5v5h-5zM184 556h1v44h-1zM182 564h5v26h-5zM201 539h1v59h-1zM199 543h5v25h-5zM209 523h1v33h-1zM207 526h5v20h-5zM217 494h1v39h-1zM215 512h5v14h-5zM225 458h1v47h-1zM223 474h5v30h-5zM241 463h1v47h-1zM239 470h5v36h-5zM257 429h1v52h-1zM255 447h5v29h-5zM265 430h1v41h-1zM263 444h5v1h-5zM290 509h1v61h-1zM288 518h5v25h-5z" fill="#089981" shape-rendering="crispEdges"/>
<path d="M87 558h1v44h-1zM85 568h5v20h-5zM95 578h1v58h-1zM93 585h5v8h-5zM128 526h1v68h-1zM126 534h5v55h-5zM136 594h1v44h-1zM134 594h5v41h-5zM160 596h1v34h-1zM158 613h5v5h-5zM192 509h1v78h-1zM190 558h5v17h-5zM233 460h1v73h-1zM231 471h5v35h-5zM249 460h1v40h-1zM247 468h5v17h-5zM274 432h1v59h-1zM272 436h5v51h-5zM282 474h1v114h-1zM280 474h5v75h-5zM298 514h1v72h-1zM296 519h5v67h-5zM306 558h1v134h-1zM304 577h5v111h-5z" fill="#f23645" shape-rendering="crispEdges"/>
<path d="M83 688.5H392" stroke="#f23645" stroke-width="1" stroke-dasharray="1 2" fill="none" shape-rendering="crispEdges"/>
<text x="402.5" y="497.3" textLength="45.78" lengthAdjust="spacingAndGlyphs" fill="#22252d">99.000</text>
<text x="402.5" y="560.55" textLength="45.78" lengthAdjust="spacingAndGlyphs" fill="#22252d">98.500</text>
<text x="402.5" y="623.8" textLength="45.78" lengthAdjust="spacingAndGlyphs" fill="#22252d">98.000</text>
<text x="402.5" y="687.3" textLength="45.78" lengthAdjust="spacingAndGlyphs" fill="#22252d">97.500</text>
<text x="26.25" y="499.3" textLength="45.4" lengthAdjust="spacingAndGlyphs" fill="#22252d">4.250%</text>
<text x="26.25" y="571.05" textLength="45.4" lengthAdjust="spacingAndGlyphs" fill="#22252d">4.200%</text>
<text x="26.25" y="643.55" textLength="45.4" lengthAdjust="spacingAndGlyphs" fill="#22252d">4.150%</text>
<text x="26.25" y="715.05" textLength="45.4" lengthAdjust="spacingAndGlyphs" fill="#22252d">4.100%</text>
<path d="M82 511.25H21.75Q19.25 511.25 19.25 513.75V529.25Q19.25 531.75 21.75 531.75H82Z" fill="#d1c4e9"/>
<text x="25.6" y="526.9" textLength="44.91" lengthAdjust="spacingAndGlyphs" fill="#131722">4.231%</text>
<path d="M392 678H451.25Q453.75 678 453.75 680.5V696.25Q453.75 698.75 451.25 698.75H392Z" fill="#f23645"/>
<text x="403" y="694.1" textLength="46.54" lengthAdjust="spacingAndGlyphs" fill="#fff" stroke="#fff" stroke-width=".3">97.456</text>
<rect x="393" y="399.5" width="64" height="39.9" fill="#fff"/>
<rect x="396.5" y="402" width="58" height="32" rx="4" fill="#fff" stroke="#ebecee" stroke-width="1"/>
<text x="407.19" y="422.9" textLength="26.31" lengthAdjust="spacingAndGlyphs" fill="#22252d">USD</text>
<rect x="15" y="399.5" width="65" height="39.9" fill="#fff"/>
<rect x="18.5" y="402" width="59" height="32" rx="4" fill="#fff" stroke="#ebecee" stroke-width="1"/>
<text x="28.75" y="422.9" textLength="9.68" lengthAdjust="spacingAndGlyphs" fill="#22252d">%</text>
<text x="91.75" y="422.1" textLength="17.21" lengthAdjust="spacingAndGlyphs" fill="#22252d">…</text>
<text x="167.6" y="742" textLength="33.53" lengthAdjust="spacingAndGlyphs" font-weight="bold" fill="#22252d">2026</text>
<text x="343.35" y="742" textLength="23.36" lengthAdjust="spacingAndGlyphs" fill="#22252d">2月</text>
<circle cx="48.25" cy="736.75" r="11.5" fill="#f0f0f1"/>
<text x="44.75" y="741.5" textLength="7.06" lengthAdjust="spacingAndGlyphs" font-size="13" fill="#5d606b">Z</text>
<circle cx="425.5" cy="736.75" r="11.5" fill="#f0f0f1"/>
<text x="422" y="741.5" textLength="6.84" lengthAdjust="spacingAndGlyphs" font-size="13" fill="#5d606b">A</text>
</g>
<g class="panel p6">
<rect x="464" y="397" width="446" height="357" fill="#fff" stroke="#f3f3f4" stroke-width="2"/>
<path d="M465 443.5H843.5M465 514.5H843.5M465 585.5H843.5M465 656.5H843.5" stroke="rgba(42,46,57,0.055)" stroke-width="1" fill="none" shape-rendering="crispEdges"/>
<path d="M589.5 398V718.5M798.5 398V718.5" stroke="rgba(42,46,57,0.055)" stroke-width="1" fill="none" shape-rendering="crispEdges"/>
<path d="M485 682h9v36.5h-9zM505 696h9v22.5h-9zM515 697h9v21.5h-9zM525 701h9v17.5h-9zM555 694h9v24.5h-9zM565 699h9v19.5h-9zM595 680h9v38.5h-9zM625 686h9v32.5h-9zM635 680h9v38.5h-9zM645 676h8v42.5h-8zM654 663h9v55.5h-9zM664 639h9v79.5h-9zM684 682h9v36.5h-9zM694 689h9v29.5h-9zM704 673h9v45.5h-9zM714 668h9v50.5h-9zM734 681h9v37.5h-9z" fill="rgba(38,166,154,0.5)" shape-rendering="crispEdges"/>
<path d="M465 692h9v26.5h-9zM475 687h9v31.5h-9zM495 693h9v25.5h-9zM535 702h9v16.5h-9zM545 696h9v22.5h-9zM575 698h9v20.5h-9zM585 694h9v24.5h-9zM605 685h9v33.5h-9zM615 676h9v42.5h-9zM674 650h9v68.5h-9zM724 676h9v42.5h-9z" fill="rgba(239,83,80,0.5)" shape-rendering="crispEdges"/>
<path d="M489 622h1v60h-1zM486 624h7v58h-7zM509 625h1v40h-1zM506 632h7v24h-7zM519 575h1v48h-1zM516 582h7v40h-7zM529 561h1v29h-1zM526 564h7v19h-7zM559 571h1v47h-1zM556 587h7v29h-7zM569 565h1v30h-1zM566 583h7v5h-7zM599 565h1v78h-1zM596 571h7v50h-7zM629 557h1v98h-1zM626 570h7v73h-7zM639 520h1v77h-1zM636 556h7v15h-7zM649 516h1v52h-1zM646 518h7v25h-7zM658 460h1v71h-1zM655 473h7v48h-7zM668 429h1v112h-1zM665 470h7v3h-7zM688 508h1v44h-1zM685 538h7v2h-7zM698 525h1v36h-1zM695 530h7v19h-7zM708 492h1v63h-1zM705 527h7v6h-7zM718 478h1v60h-1zM715 486h7v39h-7zM738 462h1v65h-1zM735 463h7v60h-7z" fill="#089981" shape-rendering="crispEdges"/>
<path d="M469 592h1v50h-1zM466 605h7v27h-7zM479 631h1v61h-1zM476 632h7v53h-7zM499 621h1v39h-1zM496 623h7v32h-7zM539 554h1v21h-1zM536 566h7v2h-7zM549 550h1v79h-1zM546 565h7v55h-7zM579 562h1v48h-1zM576 584h7v20h-7zM589 584h1v48h-1zM586 598h7v9h-7zM609 552h1v72h-1zM606 574h7v47h-7zM619 613h1v50h-1zM616 620h7v22h-7zM678 473h1v80h-1zM675 478h7v62h-7zM728 481h1v66h-1zM725 488h7v35h-7z" fill="#f23645" shape-rendering="crispEdges"/>
<g><circle cx="768.2" cy="702.5" r="12.7" fill="#fff" stroke="#f23645" stroke-width="2"/><clipPath id="cl5"><circle cx="768.2" cy="702.5" r="9.9"/></clipPath><g clip-path="url(#cl5)"><rect x="758.2" y="692.5" width="20" height="20" fill="#fff"/><rect x="758.2" y="693.1" width="20" height="3.6" fill="#ef5350"/><rect x="758.2" y="700.95" width="20" height="3.6" fill="#ef5350"/><rect x="758.2" y="708.8" width="20" height="3.6" fill="#ef5350"/><rect x="758.2" y="692.5" width="12.1" height="12.3" fill="#1e88e5"/><rect x="761.8" y="695.3" width="1.3" height="1.3" fill="#fff" fill-opacity=".85"/><rect x="761.8" y="698.5" width="1.3" height="1.3" fill="#fff" fill-opacity=".85"/><rect x="761.8" y="701.7" width="1.3" height="1.3" fill="#fff" fill-opacity=".85"/><rect x="765.1" y="695.3" width="1.3" height="1.3" fill="#fff" fill-opacity=".85"/><rect x="765.1" y="698.5" width="1.3" height="1.3" fill="#fff" fill-opacity=".85"/><rect x="765.1" y="701.7" width="1.3" height="1.3" fill="#fff" fill-opacity=".85"/><rect x="768.4" y="695.3" width="1.3" height="1.3" fill="#fff" fill-opacity=".85"/><rect x="768.4" y="698.5" width="1.3" height="1.3" fill="#fff" fill-opacity=".85"/><rect x="768.4" y="701.7" width="1.3" height="1.3" fill="#fff" fill-opacity=".85"/></g></g>
<g><circle cx="748" cy="702.5" r="12.7" fill="#fff" stroke="#f23645" stroke-width="2"/><clipPath id="cl6"><circle cx="748" cy="702.5" r="9.9"/></clipPath><g clip-path="url(#cl6)"><rect x="738" y="692.5" width="20" height="20" fill="#fff"/><rect x="738" y="693.1" width="20" height="3.6" fill="#ef5350"/><rect x="738" y="700.95" width="20" height="3.6" fill="#ef5350"/><rect x="738" y="708.8" width="20" height="3.6" fill="#ef5350"/><rect x="738" y="692.5" width="12.1" height="12.3" fill="#1e88e5"/><rect x="741.6" y="695.3" width="1.3" height="1.3" fill="#fff" fill-opacity=".85"/><rect x="741.6" y="698.5" width="1.3" height="1.3" fill="#fff" fill-opacity=".85"/><rect x="741.6" y="701.7" width="1.3" height="1.3" fill="#fff" fill-opacity=".85"/><rect x="744.9" y="695.3" width="1.3" height="1.3" fill="#fff" fill-opacity=".85"/><rect x="744.9" y="698.5" width="1.3" height="1.3" fill="#fff" fill-opacity=".85"/><rect x="744.9" y="701.7" width="1.3" height="1.3" fill="#fff" fill-opacity=".85"/><rect x="748.2" y="695.3" width="1.3" height="1.3" fill="#fff" fill-opacity=".85"/><rect x="748.2" y="698.5" width="1.3" height="1.3" fill="#fff" fill-opacity=".85"/><rect x="748.2" y="701.7" width="1.3" height="1.3" fill="#fff" fill-opacity=".85"/></g></g>
<path d="M463 463.5H844" stroke="#089981" stroke-width="1" stroke-dasharray="1 2" fill="none" shape-rendering="crispEdges"/>
<text x="853.9" y="448.8" textLength="45.78" lengthAdjust="spacingAndGlyphs" fill="#22252d">62.000</text>
<text x="853.9" y="519.8" textLength="45.78" lengthAdjust="spacingAndGlyphs" fill="#22252d">60.000</text>
<text x="852.9" y="590.55" textLength="46.8" lengthAdjust="spacingAndGlyphs" fill="#22252d">58.000</text>
<text x="852.9" y="661.3" textLength="46.8" lengthAdjust="spacingAndGlyphs" fill="#22252d">56.000</text>
<path d="M844 453.25H903.5Q906 453.25 906 455.75V471.25Q906 473.75 903.5 473.75H844Z" fill="#089981"/>
<text x="854.5" y="469.2" textLength="45.98" lengthAdjust="spacingAndGlyphs" fill="#fff" stroke="#fff" stroke-width=".3">61.423</text>
<rect x="844.7" y="399.5" width="64.3" height="39.9" fill="#fff"/>
<rect x="848.2" y="402" width="58.3" height="32" rx="4" fill="#fff" stroke="#ebecee" stroke-width="1"/>
<text x="858.92" y="422.9" textLength="26.83" lengthAdjust="spacingAndGlyphs" fill="#22252d">USD</text>
<text x="474.75" y="422.1" textLength="95.43" lengthAdjust="spacingAndGlyphs" fill="#22252d">West Texas Oil</text>
<text x="575.5" y="422.1" fill="#22252d">·</text>
<text x="585.16" y="422.1" textLength="22.45" lengthAdjust="spacingAndGlyphs" fill="#22252d">1日</text>
<text x="612.25" y="422.1" fill="#22252d">·</text>
<text x="623" y="422.1" textLength="45.5" lengthAdjust="spacingAndGlyphs" fill="#22252d">OANDA</text>
<text x="678.5" y="422.1" textLength="30.1" lengthAdjust="spacingAndGlyphs" fill="#22252d">始値</text>
<text x="708.03" y="422.1" textLength="45.27" lengthAdjust="spacingAndGlyphs" fill="#089981">59.774</text>
<text x="761.98" y="422.1" textLength="31.14" lengthAdjust="spacingAndGlyphs" fill="#22252d">高値</text>
<text x="792.96" y="422.1" textLength="15.62" lengthAdjust="spacingAndGlyphs" fill="#22252d">…</text>
<text x="572.1" y="742" textLength="33.53" lengthAdjust="spacingAndGlyphs" font-weight="bold" fill="#22252d">2026</text>
<text x="787.1" y="742" textLength="23.36" lengthAdjust="spacingAndGlyphs" fill="#22252d">2月</text>
</g>
<g class="panel p7">
<rect x="916" y="397" width="445" height="357" fill="#fff" stroke="#f3f3f4" stroke-width="2"/>
<path d="M917 453.5H1271.25M917 512.5H1271.25M917 570.5H1271.25M917 628.5H1271.25M917 687.5H1271.25" stroke="rgba(42,46,57,0.055)" stroke-width="1" fill="none" shape-rendering="crispEdges"/>
<path d="M1033.5 398V718.5M1229.5 398V718.5" stroke="rgba(42,46,57,0.055)" stroke-width="1" fill="none" shape-rendering="crispEdges"/>
<path d="M917 674h9v44.5h-9zM936 677h8v41.5h-8zM955 679h8v39.5h-8zM964 680h8v38.5h-8zM973 663h9v55.5h-9zM992 643h8v75.5h-8zM1029 667h9v51.5h-9zM1039 658h8v60.5h-8zM1048 662h8v56.5h-8zM1067 650h8v68.5h-8zM1076 667h8v51.5h-8zM1085 651h9v67.5h-9zM1104 657h8v61.5h-8zM1132 684h8v34.5h-8zM1141 670h9v48.5h-9zM1151 649h8v69.5h-8zM1160 666h8v52.5h-8zM1169 668h9v50.5h-9z" fill="rgba(38,166,154,0.5)" shape-rendering="crispEdges"/>
<path d="M927 677h8v41.5h-8zM945 665h9v53.5h-9zM983 660h8v58.5h-8zM1001 639h9v79.5h-9zM1011 642h8v76.5h-8zM1020 651h8v67.5h-8zM1057 663h9v55.5h-9zM1095 657h8v61.5h-8zM1113 654h9v64.5h-9zM1123 666h8v52.5h-8z" fill="rgba(239,83,80,0.5)" shape-rendering="crispEdges"/>
<path d="M921 643h1v19h-1zM918 656h7v1h-7zM940 643h1v15h-1zM937 647h7v11h-7zM958 641h1v14h-1zM955 646h7v1h-7zM968 614h1v33h-1zM965 616h7v31h-7zM977 599h1v20h-1zM974 604h7v11h-7zM996 585h1v19h-1zM993 589h7v9h-7zM1033 628h1v27h-1zM1030 648h7v3h-7zM1042 612h1v31h-1zM1039 614h7v28h-7zM1052 600h1v20h-1zM1049 601h7v12h-7zM1070 605h1v21h-1zM1067 606h7v5h-7zM1080 594h1v19h-1zM1077 596h7v11h-7zM1089 561h1v33h-1zM1086 571h7v23h-7zM1108 557h1v16h-1zM1105 562h7v11h-7zM1136 543h1v13h-1zM1133 549h7v7h-7zM1145 521h1v32h-1zM1142 522h7v29h-7zM1154 486h1v39h-1zM1151 502h7v21h-7zM1164 470h1v50h-1zM1161 472h7v36h-7zM1173 456h1v26h-1zM1170 457h7v11h-7z" fill="#089981" shape-rendering="crispEdges"/>
<path d="M930 647h1v19h-1zM927 655h7v3h-7zM949 636h1v19h-1zM946 646h7v3h-7zM986 592h1v22h-1zM983 603h7v3h-7zM1005 585h1v72h-1zM1002 587h7v61h-7zM1014 627h1v24h-1zM1011 644h7v2h-7zM1024 636h1v29h-1zM1021 645h7v7h-7zM1061 599h1v23h-1zM1058 600h7v13h-7zM1098 560h1v19h-1zM1095 571h7v4h-7zM1117 563h1v12h-1zM1114 563h7v3h-7zM1126 564h1v25h-1zM1123 564h7v8h-7z" fill="#f23645" shape-rendering="crispEdges"/>
<path d="M915 457.5H1272" stroke="#089981" stroke-width="1" stroke-dasharray="1 2" fill="none" shape-rendering="crispEdges"/>
<text x="1282.5" y="515.55" textLength="65.81" lengthAdjust="spacingAndGlyphs" fill="#22252d">4,800.000</text>
<text x="1282.5" y="573.45" textLength="65.81" lengthAdjust="spacingAndGlyphs" fill="#22252d">4,600.000</text>
<text x="1282.5" y="632.55" textLength="65.81" lengthAdjust="spacingAndGlyphs" fill="#22252d">4,400.000</text>
<text x="1282.5" y="690.45" textLength="65.81" lengthAdjust="spacingAndGlyphs" fill="#22252d">4,200.000</text>
<path d="M1272 447.25H1352.75Q1355.25 447.25 1355.25 449.75V465.25Q1355.25 467.75 1352.75 467.75H1272Z" fill="#089981"/>
<text x="1283.25" y="462.3" textLength="66.31" lengthAdjust="spacingAndGlyphs" fill="#fff" stroke="#fff" stroke-width=".3">4,987.545</text>
<rect x="1273.25" y="399.5" width="85" height="39.9" fill="#fff"/>
<rect x="1276.75" y="402" width="79" height="32" rx="4" fill="#fff" stroke="#ebecee" stroke-width="1"/>
<text x="1286.67" y="422.9" textLength="26.83" lengthAdjust="spacingAndGlyphs" fill="#22252d">USD</text>
<text x="925.52" y="422.1" textLength="74.97" lengthAdjust="spacingAndGlyphs" fill="#22252d">金／米ドル</text>
<text x="1005.75" y="422.1" fill="#22252d">·</text>
<text x="1015.66" y="422.1" textLength="22.45" lengthAdjust="spacingAndGlyphs" fill="#22252d">1日</text>
<text x="1042.5" y="422.1" fill="#22252d">·</text>
<text x="1053.25" y="422.1" textLength="45.75" lengthAdjust="spacingAndGlyphs" fill="#22252d">OANDA</text>
<text x="1109" y="422.1" textLength="29.84" lengthAdjust="spacingAndGlyphs" fill="#22252d">始値</text>
<text x="1139" y="422.1" textLength="65.56" lengthAdjust="spacingAndGlyphs" fill="#089981">4,952.295</text>
<text x="1213.48" y="422.1" textLength="31.14" lengthAdjust="spacingAndGlyphs" fill="#22252d">高値</text>
<text x="1244.92" y="422.1" textLength="15.93" lengthAdjust="spacingAndGlyphs" fill="#22252d">…</text>
<text x="1016.1" y="742" textLength="33.53" lengthAdjust="spacingAndGlyphs" font-weight="bold" fill="#22252d">2026</text>
<text x="1217.6" y="742" textLength="23.36" lengthAdjust="spacingAndGlyphs" fill="#22252d">2月</text>
</g>
<g class="panel p8">
<rect x="1367" y="397" width="445" height="357" fill="#fff" stroke="#f3f3f4" stroke-width="2"/>
<path d="M1368 428.5H1722.25M1368 467.5H1722.25M1368 506.5H1722.25M1368 545.5H1722.25M1368 584.5H1722.25M1368 622.5H1722.25M1368 661.5H1722.25M1368 700.5H1722.25" stroke="rgba(42,46,57,0.055)" stroke-width="1" fill="none" shape-rendering="crispEdges"/>
<path d="M1489.5 398V718.5M1705.5 398V718.5" stroke="rgba(42,46,57,0.055)" stroke-width="1" fill="none" shape-rendering="crispEdges"/>
<path d="M1374 688h6v30.5h-6zM1395 687h6v31.5h-6zM1402 711h6v7.5h-6zM1409 709h6v9.5h-6zM1430 699h6v19.5h-6zM1444 685h6v33.5h-6zM1451 710h6v8.5h-6zM1458 711h6v7.5h-6zM1472 684h6v34.5h-6zM1486 702h6v16.5h-6zM1493 674h6v44.5h-6zM1500 706h6v12.5h-6zM1507 706h6v12.5h-6zM1514 670h6v48.5h-6zM1556 709h6v9.5h-6zM1563 681h6v37.5h-6zM1570 652h6v66.5h-6zM1577 639h6v79.5h-6zM1626 670h6v48.5h-6zM1633 691h6v27.5h-6zM1640 689h6v29.5h-6z" fill="rgba(38,166,154,0.5)" shape-rendering="crispEdges"/>
<path d="M1368 680h5v38.5h-5zM1381 679h6v39.5h-6zM1388 680h6v38.5h-6zM1416 684h6v34.5h-6zM1423 691h6v27.5h-6zM1437 707h6v11.5h-6zM1465 678h6v40.5h-6zM1479 690h6v28.5h-6zM1521 681h6v37.5h-6zM1528 682h6v36.5h-6zM1535 678h6v40.5h-6zM1542 682h6v36.5h-6zM1549 711h6v7.5h-6zM1584 677h6v41.5h-6zM1591 694h6v24.5h-6zM1598 711h6v7.5h-6zM1605 708h6v10.5h-6zM1612 699h6v19.5h-6zM1619 675h6v43.5h-6zM1647 718h5v0.5h-5z" fill="rgba(239,83,80,0.5)" shape-rendering="crispEdges"/>
<path d="M1377 619h1v57h-1zM1375 625h5v29h-5zM1398 596h1v83h-1zM1396 620h5v52h-5zM1405 612h1v15h-1zM1403 616h5v5h-5zM1412 602h1v30h-1zM1410 610h5v7h-5zM1433 622h1v32h-1zM1431 630h5v4h-5zM1447 593h1v57h-1zM1445 636h5v3h-5zM1454 624h1v19h-1zM1452 626h5v11h-5zM1461 622h1v13h-1zM1459 625h5v2h-5zM1475 597h1v50h-1zM1473 615h5v25h-5zM1489 607h1v28h-1zM1487 608h5v25h-5zM1496 565h1v52h-1zM1494 584h5v25h-5zM1503 570h1v27h-1zM1501 572h5v13h-5zM1510 549h1v24h-1zM1508 555h5v18h-5zM1516 490h1v66h-1zM1514 509h5v47h-5zM1558 561h1v20h-1zM1556 567h5v10h-5zM1565 537h1v46h-1zM1563 560h5v7h-5zM1572 462h1v104h-1zM1570 479h5v82h-5zM1579 429h1v67h-1zM1577 449h5v31h-5zM1628 574h1v65h-1zM1626 596h5v21h-5zM1635 578h1v36h-1zM1633 594h5v3h-5zM1642 561h1v53h-1zM1640 594h5v1h-5z" fill="#089981" shape-rendering="crispEdges"/>
<path d="M1370 582h1v96h-1zM1368 619h5v35h-5zM1384 577h1v98h-1zM1382 625h5v33h-5zM1391 594h1v98h-1zM1389 657h5v15h-5zM1419 573h1v52h-1zM1417 610h5v2h-5zM1426 605h1v46h-1zM1424 611h5v23h-5zM1440 612h1v32h-1zM1438 630h5v9h-5zM1468 577h1v71h-1zM1466 625h5v15h-5zM1482 601h1v39h-1zM1480 615h5v18h-5zM1523 497h1v63h-1zM1521 509h5v3h-5zM1530 511h1v61h-1zM1528 511h5v49h-5zM1537 553h1v46h-1zM1535 559h5v6h-5zM1544 546h1v46h-1zM1542 564h5v11h-5zM1551 570h1v9h-1zM1549 574h5v3h-5zM1586 444h1v41h-1zM1584 449h5v27h-5zM1593 471h1v31h-1zM1591 475h5v3h-5zM1600 475h1v12h-1zM1598 477h5v8h-5zM1607 477h1v38h-1zM1605 484h5v30h-5zM1614 513h1v33h-1zM1612 513h5v22h-5zM1621 529h1v98h-1zM1619 534h5v83h-5zM1649 592h1v5h-1zM1647 594h5v3h-5z" fill="#f23645" shape-rendering="crispEdges"/>
<path d="M1366 596.5H1723" stroke="#f23645" stroke-width="1" stroke-dasharray="1 2" fill="none" shape-rendering="crispEdges"/>
<text x="1733.5" y="470.6" textLength="65.81" lengthAdjust="spacingAndGlyphs" fill="#22252d">96,000.00</text>
<text x="1733.5" y="509.6" textLength="65.81" lengthAdjust="spacingAndGlyphs" fill="#22252d">94,000.00</text>
<text x="1733.5" y="548.6" textLength="65.81" lengthAdjust="spacingAndGlyphs" fill="#22252d">92,000.00</text>
<text x="1733.5" y="587.6" textLength="65.81" lengthAdjust="spacingAndGlyphs" fill="#22252d">90,000.00</text>
<text x="1733.5" y="625.6" textLength="65.81" lengthAdjust="spacingAndGlyphs" fill="#22252d">88,000.00</text>
<text x="1733.5" y="664.6" textLength="65.81" lengthAdjust="spacingAndGlyphs" fill="#22252d">86,000.00</text>
<text x="1733.5" y="703.6" textLength="65.81" lengthAdjust="spacingAndGlyphs" fill="#22252d">84,000.00</text>
<path d="M1723 586H1803.5Q1806 586 1806 588.5V622.5Q1806 625 1803.5 625H1723Z" fill="#f23645"/>
<text x="1734.25" y="599.8" textLength="65.81" lengthAdjust="spacingAndGlyphs" fill="#fff" stroke="#fff" stroke-width=".3">89,374.75</text>
<text x="1734.25" y="618.5" textLength="58.54" lengthAdjust="spacingAndGlyphs" fill="#fff" stroke="#fff" stroke-width=".3" stroke-opacity="0.75" fill-opacity="0.75">23:20:47</text>
<rect x="1724.25" y="399.5" width="85" height="39.9" fill="#fff"/>
<rect x="1727.75" y="402" width="79" height="32" rx="4" fill="#fff" stroke="#ebecee" stroke-width="1"/>
<text x="1737.67" y="422.9" textLength="26.83" lengthAdjust="spacingAndGlyphs" fill="#22252d">USD</text>
<text x="1377.37" y="422.1" textLength="149.6" lengthAdjust="spacingAndGlyphs" fill="#22252d">ビットコイン／米ドル</text>
<text x="1531.75" y="422.1" fill="#22252d">·</text>
<text x="1541.66" y="422.1" textLength="22.45" lengthAdjust="spacingAndGlyphs" fill="#22252d">1日</text>
<text x="1568.5" y="422.1" fill="#22252d">·</text>
<text x="1579.25" y="422.1" textLength="60.1" lengthAdjust="spacingAndGlyphs" fill="#22252d">Coinbase</text>
<text x="1648.5" y="422.1" textLength="30.1" lengthAdjust="spacingAndGlyphs" fill="#22252d">始値</text>
<text x="1678.92" y="422.1" textLength="15.93" lengthAdjust="spacingAndGlyphs" fill="#22252d">…</text>
<text x="1472.1" y="742" textLength="33.53" lengthAdjust="spacingAndGlyphs" font-weight="bold" fill="#22252d">2026</text>
<text x="1692.8" y="742" textLength="23.36" lengthAdjust="spacingAndGlyphs" fill="#22252d">2月</text>
</g>
<g class="logo" fill="#141414"><path d="M15.4 781.4H30.6V799.9H22.9V788.6H15.4Z"/><circle cx="36.4" cy="784.8" r="3.3"/><path d="M42.2 781.4H53L46.2 799.9H37.2Z"/></g>
<text x="62.3" y="799.8" textLength="150" lengthAdjust="spacingAndGlyphs" font-size="25.6" font-weight="bold" fill="#141414">TradingView</text>
</svg>
</body>
</html>
